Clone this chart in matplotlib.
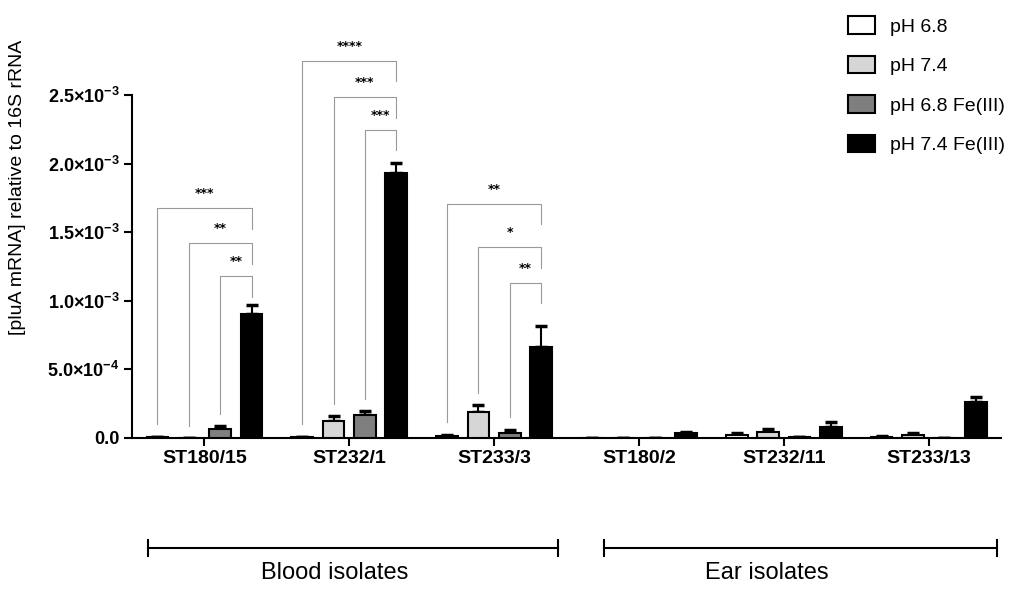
import numpy as np
import matplotlib
matplotlib.use("Agg")
import matplotlib.pyplot as plt
from matplotlib.patches import Patch
from matplotlib import font_manager
from matplotlib.transforms import blended_transform_factory

# pluA expression (relative to 16S rRNA), mean and SEM per isolate
isolates = ["ST180/15", "ST232/1", "ST233/3", "ST180/2", "ST232/11", "ST233/13"]
conditions = ["pH 6.8", "pH 7.4", "pH 6.8 Fe(III)", "pH 7.4 Fe(III)"]

ph68 = [5e-6, 5e-6, 1.5e-5, 0.0, 2.5e-5, 1e-5]
ph68_err = [5e-6, 5e-6, 1e-5, 0.0, 1e-5, 5e-6]
ph74 = [0.0, 1.25e-4, 1.9e-4, 0.0, 4e-5, 2e-5]
ph74_err = [0.0, 3.5e-5, 5e-5, 0.0, 2.5e-5, 1.5e-5]
ph68_fe = [6.5e-5, 1.65e-4, 3.5e-5, 0.0, 5e-6, 0.0]
ph68_fe_err = [2e-5, 3e-5, 2.5e-5, 0.0, 5e-6, 0.0]
ph74_fe = [9.0e-4, 1.93e-3, 6.6e-4, 3.5e-5, 8e-5, 2.62e-4]
ph74_fe_err = [7e-5, 7.5e-5, 1.55e-4, 1e-5, 4e-5, 3.7e-5]

# significance brackets: (isolate, first bar, second bar, height, label)
sig_isolate = [0, 0, 0, 1, 1, 1, 2, 2, 2]
sig_from = [0, 1, 2, 0, 1, 2, 0, 1, 2]
sig_to = [3, 3, 3, 3, 3, 3, 3, 3, 3]
sig_height = [1.676e-3, 1.42e-3, 1.18e-3, 2.75e-3, 2.485e-3, 2.245e-3, 1.706e-3, 1.392e-3, 1.13e-3]
sig_label = ["***", "**", "**", "****", "***", "***", "**", "*", "**"]

ytick_vals = [0.0, 5e-4, 1e-3, 1.5e-3, 2e-3, 2.5e-3]
ytick_labels = ["0.0", "5.0×10$^{-4}$", "1.0×10$^{-3}$", "1.5×10$^{-3}$",
                "2.0×10$^{-3}$", "2.5×10$^{-3}$"]

names = {f.name for f in font_manager.fontManager.ttflist}
narrow = "Liberation Sans Narrow" if "Liberation Sans Narrow" in names else "Liberation Sans"
plt.rcParams["mathtext.fontset"] = "custom"
plt.rcParams["mathtext.rm"] = narrow + ":bold"
plt.rcParams["mathtext.it"] = narrow + ":bold"
plt.rcParams["mathtext.bf"] = narrow + ":bold"

means = [ph68, ph74, ph68_fe, ph74_fe]
errs = [ph68_err, ph74_err, ph68_fe_err, ph74_fe_err]
colors = ["white", "#d6d6d6", "#7f7f7f", "black"]
offsets = [-0.325, -0.108, 0.108, 0.325]
width = 0.15

fig = plt.figure(figsize=(10.11, 5.89), dpi=100)
ax = fig.add_axes([0.1306, 0.2564, 0.8595, 0.6757])

x = np.arange(len(isolates))
for k in range(4):
    ax.bar(x + offsets[k], means[k], width, color=colors[k], edgecolor="black",
           linewidth=1.5, zorder=3)
    ax.errorbar(x + offsets[k], means[k], yerr=[np.zeros(len(x)), errs[k]],
                fmt="none", ecolor="black", elinewidth=1.5, capsize=4,
                capthick=2.5, zorder=2)

# significance brackets
gap = 9e-5
drop = 1.5e-4
for g, a, b, h, lab in zip(sig_isolate, sig_from, sig_to, sig_height, sig_label):
    xa = g + offsets[a]
    xb = g + offsets[b]
    ya = means[a][g] + errs[a][g] + gap
    ax.plot([xa, xa, xb, xb], [ya, h, h, h - drop], color="#9a9a9a", lw=0.8,
            zorder=1, clip_on=False)
    ax.text((xa + xb) / 2, h + 1.05e-4, lab, ha="center", va="center",
            fontsize=9, fontweight="bold", color="black")

ax.set_xlim(-0.5, 5.5)
ax.set_ylim(0, 2.9e-3)
ax.spines["top"].set_visible(False)
ax.spines["right"].set_visible(False)
ax.spines["left"].set_bounds(0, 2.5e-3)
ax.spines["left"].set_linewidth(1.5)
ax.spines["bottom"].set_linewidth(1.5)

ax.set_yticks(ytick_vals)
ax.set_yticklabels(ytick_labels, fontsize=13, fontweight="bold", family=narrow)
ax.set_xticks(x)
ax.set_xticklabels(isolates, fontsize=14, fontweight="bold", family=narrow)
ax.tick_params(axis="both", direction="out", length=6, width=1.5, pad=3)

fig.text(0.017, 1 - 187 / 589, "[pluA mRNA] relative to 16S rRNA", rotation=90,
         ha="center", va="center", fontsize=14, family="Liberation Sans")

# source groups below the axis
trans = blended_transform_factory(ax.transData, fig.transFigure)
yb = 1 - 548 / 589
tick = 8 / 589
for x0, x1, xt, lab in [(-0.39, 2.438, 0.9, "Blood isolates"),
                        (2.76, 5.47, 3.886, "Ear isolates")]:
    ax.plot([x0, x1], [yb, yb], color="black", lw=1.5, transform=trans, clip_on=False)
    for xe in (x0, x1):
        ax.plot([xe, xe], [yb - tick, yb + tick], color="black", lw=1.5,
                transform=trans, clip_on=False)
    ax.text(xt, 1 - 573 / 589, lab, transform=trans, ha="center", va="center",
            fontsize=17, family=narrow)

handles = [Patch(facecolor=c, edgecolor="black", linewidth=1.5) for c in colors]
fig.legend(handles, conditions, loc="upper left",
           bbox_to_anchor=(848 / 1011, 1 - 16 / 589), frameon=False,
           handlelength=1.4, handleheight=1.03, labelspacing=1.03,
           handletextpad=0.77, borderpad=0, borderaxespad=0,
           prop={"family": narrow, "size": 14})

fig.savefig("out.png", dpi=100)
